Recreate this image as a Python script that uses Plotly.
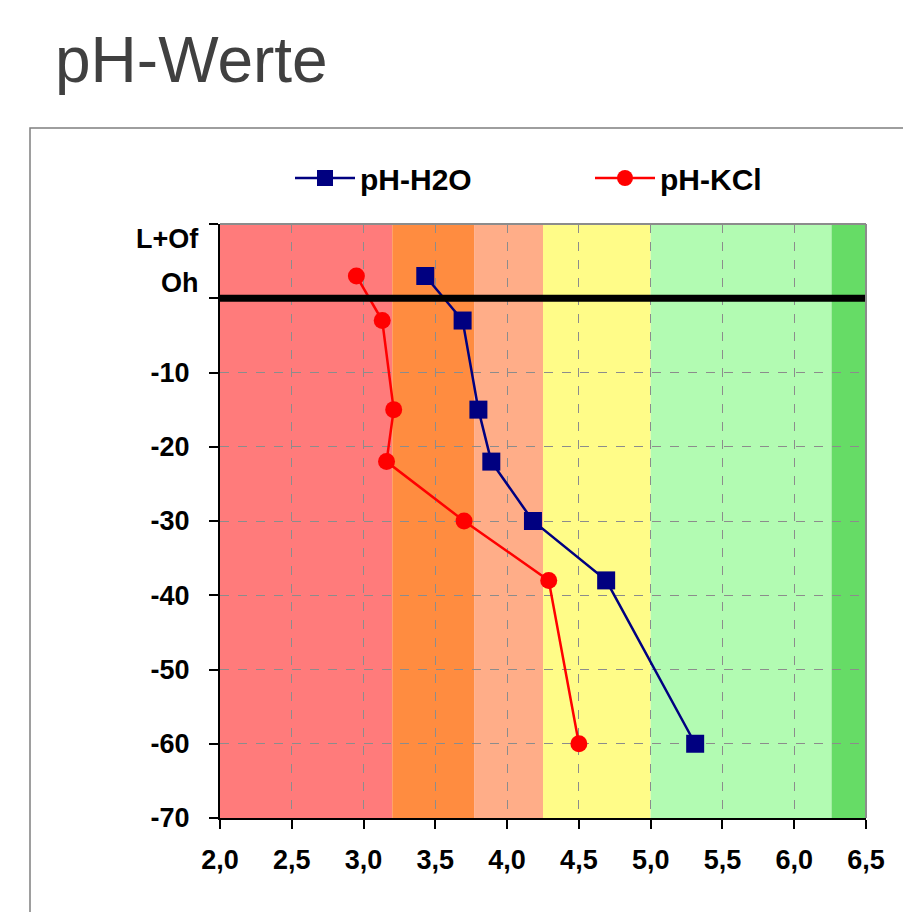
import plotly.graph_objects as go

# Data
depth = [3, -3, -15, -22, -30, -38, -60]
ph_h2o = [3.43, 3.69, 3.80, 3.89, 4.18, 4.69, 5.31]
ph_kcl = [2.95, 3.13, 3.21, 3.16, 3.70, 4.29, 4.50]

band_lo = [2.0, 3.2, 3.77, 4.25, 5.0, 6.26]
band_hi = [3.2, 3.77, 4.25, 5.0, 6.26, 6.5]
band_col = ["#FF7B7B", "#FF8C40", "#FFAD88", "#FFFC88", "#B2FBB2", "#66DC66"]

y_tickvals = [-70, -60, -50, -40, -30, -20, -10, 0, 10]
y_ticktext = ["-70", "-60", "-50", "-40", "-30", "-20", "-10", "", ""]
horizon_labels = ["L+Of", "Oh"]
horizon_pos = [8, 2]
x_tickvals = [2.0, 2.5, 3.0, 3.5, 4.0, 4.5, 5.0, 5.5, 6.0, 6.5]
x_ticktext = ["2,0", "2,5", "3,0", "3,5", "4,0", "4,5", "5,0", "5,5", "6,0", "6,5"]

W, H = 911, 912
OFF = 8  # page body margin
L, T = 212, 216
PW, PH = 646, 594
R = W - L - PW
B = H - T - PH

def px(xpage):
    return (xpage - (L + OFF)) / PW

def py(ypage):
    return ((T + OFF + PH) - ypage) / PH

FONT = "Liberation Sans"

fig = go.Figure()
fig.add_trace(go.Scatter(x=ph_h2o, y=depth, mode="lines+markers", name="pH-H2O",
                         line=dict(color="#000080", width=2.5),
                         marker=dict(symbol="square", size=18, color="#000080"),
                         legend="legend"))
fig.add_trace(go.Scatter(x=ph_kcl, y=depth, mode="lines+markers", name="pH-KCl",
                         line=dict(color="#FF0000", width=2.5),
                         marker=dict(symbol="circle", size=17, color="#FF0000"),
                         legend="legend2"))

shapes = []
for lo, hi, c in zip(band_lo, band_hi, band_col):
    shapes.append(dict(type="rect", xref="x", yref="y", x0=lo, x1=hi, y0=-70, y1=10,
                       fillcolor=c, line=dict(width=0), layer="below"))
# thick horizon line at 0
shapes.append(dict(type="line", xref="x", yref="y", x0=2.0, x1=6.5, y0=0, y1=0,
                   line=dict(color="black", width=7), layer="above"))
# top and right gray borders of plot
shapes.append(dict(type="line", xref="paper", yref="paper", x0=0, x1=1, y0=1, y1=1,
                   line=dict(color="#8C8C8C", width=2)))
shapes.append(dict(type="line", xref="paper", yref="paper", x0=1, x1=1, y0=0, y1=1,
                   line=dict(color="#8C8C8C", width=2)))
# outer chart frame
shapes.append(dict(type="rect", xref="paper", yref="paper",
                   x0=px(30), x1=px(960), y0=py(960), y1=py(128),
                   line=dict(color="#7F7F7F", width=1.5), fillcolor="rgba(0,0,0,0)", layer="below"))

annotations = []
for lab, pos in zip(horizon_labels, horizon_pos):
    annotations.append(dict(x=0, xref="paper", y=pos, yref="y", text=lab, showarrow=False,
                            xanchor="right", xshift=-19,
                            font=dict(family=FONT, size=27, color="black", weight="bold")))

legend_font = dict(family=FONT, size=30, color="black", weight="bold")
fig.update_layout(
    width=W, height=H,
    margin=dict(l=L, r=R, t=T, b=B),
    paper_bgcolor="white", plot_bgcolor="white",
    title=dict(text="pH-Werte", xref="container", yref="container",
               x=(55 - OFF) / W, y=1 - (60 - OFF) / H,
               xanchor="left", yanchor="middle",
               font=dict(family=FONT, size=64, color="#404040")),
    shapes=shapes, annotations=annotations,
    legend=dict(x=px(290), y=py(178), xanchor="left", yanchor="middle",
                bgcolor="rgba(0,0,0,0)", font=legend_font, itemwidth=60),
    legend2=dict(x=px(590), y=py(178), xanchor="left", yanchor="middle",
                 bgcolor="rgba(0,0,0,0)", font=legend_font, itemwidth=60),
    showlegend=True,
)
fig.update_xaxes(range=[2.0, 6.5], tickvals=x_tickvals, ticktext=x_ticktext,
                 showgrid=True, gridcolor="#8C8C8C", griddash="dash", gridwidth=1,
                 showline=True, linecolor="black", linewidth=2,
                 ticks="outside", ticklen=9, tickcolor="black", tickwidth=2,
                 ticklabelstandoff=8,
                 tickfont=dict(family=FONT, size=27, color="black", weight="bold"),
                 zeroline=False, fixedrange=True)
fig.update_yaxes(range=[-70, 10], tickvals=y_tickvals, ticktext=y_ticktext,
                 showgrid=True, gridcolor="#8C8C8C", griddash="dash", gridwidth=1,
                 showline=True, linecolor="black", linewidth=2,
                 ticks="outside", ticklen=9, tickcolor="black", tickwidth=2,
                 ticklabelstandoff=14,
                 tickfont=dict(family=FONT, size=27, color="black", weight="bold"),
                 zeroline=False, fixedrange=True)

fig.write_html("out.html")
